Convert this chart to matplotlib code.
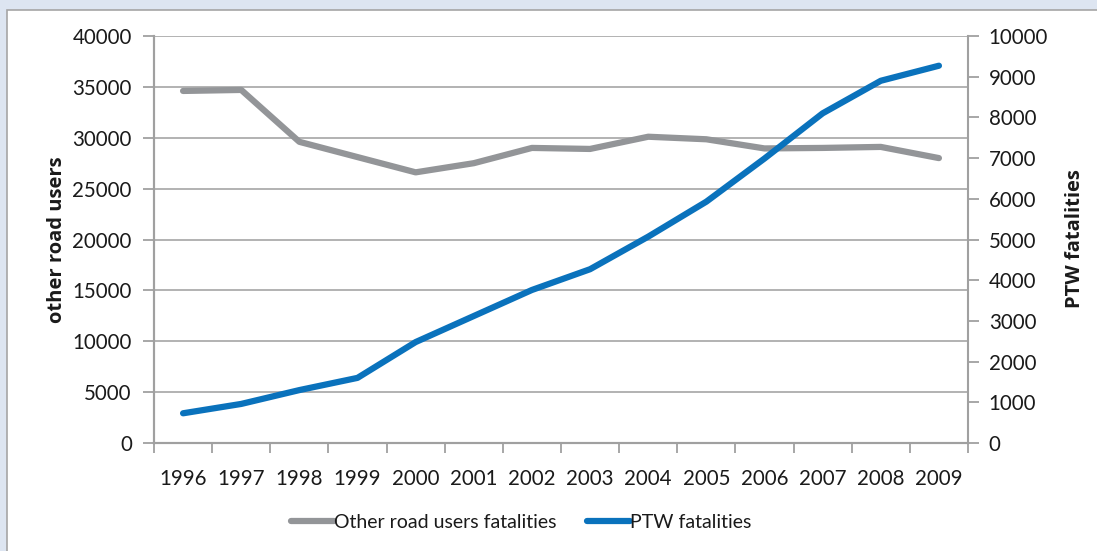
import matplotlib
matplotlib.use("Agg")
import matplotlib.pyplot as plt
from matplotlib.patches import Rectangle

years = ["1996", "1997", "1998", "1999", "2000", "2001", "2002",
         "2003", "2004", "2005", "2006", "2007", "2008", "2009"]
other_road_users = [34600, 34700, 29600, 28100, 26600, 27500, 29000,
                    28900, 30100, 29850, 28950, 29000, 29100, 28000]
ptw_fatalities = [730, 960, 1300, 1600, 2480, 3120, 3760,
                  4270, 5070, 5930, 6990, 8100, 8900, 9270]

plt.rcParams['font.family'] = ['Lato', 'DejaVu Sans']
W, H = 1097, 551
fig = plt.figure(figsize=(W / 100, H / 100), dpi=100)
fig.patch.set_facecolor('#dde5f1')

# white panel
fig.patches.append(Rectangle((7 / W, -0.1), 1.2, 1.1 - 10 / H, transform=fig.transFigure,
                             facecolor='white', edgecolor='#a5a5a5', linewidth=1.2,
                             zorder=-10))

left, right, top, bottom = 154, 968, 36, 443
ax = fig.add_axes([left / W, 1 - bottom / H, (right - left) / W, (bottom - top) / H])
ax.set_facecolor('none')
ax2 = ax.twinx()

grey_axis = '#a0a0a0'
tick_fs = 14.8
x = list(range(len(years)))
ax.plot(x, other_road_users, color='#939598', linewidth=4.5, solid_capstyle='round',
        label='Other road users fatalities', zorder=3)
ax2.plot(x, ptw_fatalities, color='#0a72bc', linewidth=4.5, solid_capstyle='round',
         label='PTW fatalities', zorder=3)

ax.set_xlim(-0.5, len(years) - 0.5)
ax.set_ylim(0, 40000)
ax2.set_ylim(0, 10000)
ax.set_yticks(range(0, 40001, 5000))
ax2.set_yticks(range(0, 10001, 1000))
ax.set_xticks(x)
ax.set_xticklabels(years)
ax.set_xticks([i - 0.5 for i in range(len(years) + 1)], minor=True)
ax.grid(axis='y', color='#a6a6a6', linewidth=1.2)

for a in (ax, ax2):
    for s in a.spines.values():
        s.set_color(grey_axis)
        s.set_linewidth(1.5)
    a.spines['top'].set_visible(False)
ax.spines['right'].set_visible(False)

ax.tick_params(axis='y', length=8, width=1.3, color=grey_axis, labelsize=tick_fs,
               labelcolor='#1a1a1a', pad=8)
ax2.tick_params(axis='y', length=8, width=1.3, color=grey_axis, labelsize=tick_fs,
                labelcolor='#1a1a1a', pad=7)
ax.tick_params(axis='x', which='major', length=0, labelsize=tick_fs, labelcolor='#1a1a1a', pad=19)
ax.tick_params(axis='x', which='minor', length=7, width=1.3, color=grey_axis)

bold_fam = ['Open Sans', 'DejaVu Sans']
fig.text(57 / W, 1 - 240 / H, 'other road users', rotation=90, ha='center', va='center',
         fontsize=14.5, fontweight='bold', color='#1a1a1a', family=bold_fam)
fig.text(1075 / W, 1 - 239 / H, 'PTW fatalities', rotation=90, ha='center', va='center',
         fontsize=14.5, fontweight='bold', color='#1a1a1a', family=bold_fam)

h1, l1 = ax.get_legend_handles_labels()
h2, l2 = ax2.get_legend_handles_labels()
fig.legend(h1 + h2, l1 + l2, loc='center', bbox_to_anchor=(521 / W, 1 - 522 / H),
           ncol=2, frameon=False, fontsize=14, handlelength=2.2, handletextpad=0.0,
           columnspacing=1.6, labelcolor='#1a1a1a')

fig.savefig('out.png', dpi=100, facecolor=fig.get_facecolor())
